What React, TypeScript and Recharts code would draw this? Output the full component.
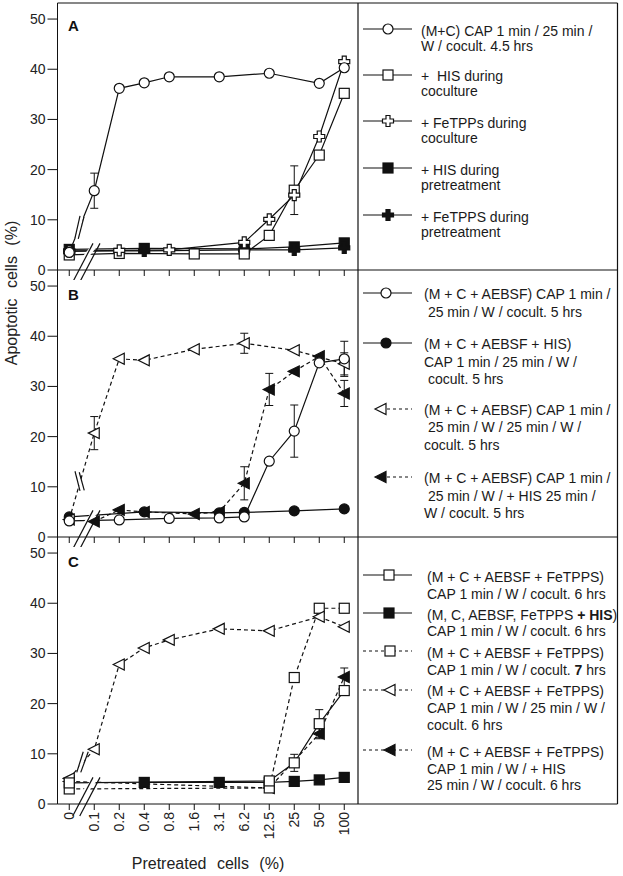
import React from 'react';
import { LineChart, Line, XAxis, YAxis, ReferenceLine, ErrorBar } from 'recharts';

const categories = ['0', '0.1', '0.2', '0.4', '0.8', '1.6', '3.1', '6.2', '12.5', '25', '50', '100'];
const yTicks = [0, 10, 20, 30, 40, 50];

// panel A
const aCap = [3.5, 15.8, 36.2, 37.3, 38.5, null, 38.5, null, 39.2, null, 37.2, 40.3];
const aCapErr = [null, 3.5, null, null, null, null, null, null, null, null, null, null];
const aHisCo = [3.0, null, 3.3, null, null, 3.2, null, 3.2, 6.9, 15.9, 22.9, 35.2];
const aHisCoErr = [null, null, null, null, null, null, null, null, null, 4.85, null, null];
const aFeCo = [3.7, null, 3.9, null, 4.0, null, null, 5.5, 10.1, 14.9, 26.6, 41.5];
const aHisPre = [4.1, null, null, 4.3, null, null, null, 4.2, null, 4.6, null, 5.4];
const aFePre = [3.8, null, null, 3.8, null, null, null, 4.0, null, 4.0, null, 4.4];

// panel B
const bAebsf = [3.2, null, 3.4, null, 3.7, null, 3.8, 4.0, 15.1, 21.1, 34.7, 35.5];
const bAebsfErr = [null, null, null, null, null, null, null, null, null, 5.2, null, 3.5];
const bAebsfHis = [4.0, null, null, 5.0, null, null, 4.8, 4.9, null, 5.2, null, 5.6];
const bWash = [3.5, 20.7, 35.5, 35.2, null, 37.4, null, 38.6, null, 37.2, null, 34.5];
const bWashErr = [null, 3.3, null, null, null, null, null, 2.0, null, null, null, 2.2];
const bWashHis = [null, 3.1, 5.4, 5.0, null, 4.6, 5.0, 10.7, 29.4, 33.0, 36.0, 28.6];
const bWashHisErr = [null, null, null, null, null, null, null, 3.3, 3.2, null, null, 2.6];

// panel C
const cFe6 = [4.2, null, null, null, null, null, null, null, 4.6, 8.2, 16.0, 22.6];
const cFe6Err = [null, null, null, null, null, null, null, null, null, 1.7, 2.8, null];
const cFeHis = [null, null, null, 4.3, null, null, 4.3, null, 4.3, 4.5, 4.8, 5.3];
const cFe7 = [3.0, null, null, null, null, null, null, null, 3.2, 25.2, 39.0, 39.0];
const cWash = [5.1, 10.9, 27.8, 31.1, 32.7, null, 34.9, null, 34.5, null, 37.3, 35.3];
const cWashHis = [4.5, null, null, null, null, null, null, null, 3.2, null, 14.0, 25.3];
const cWashHisErr = [null, null, null, null, null, null, null, null, null, null, 1.0, 1.8];

const INK = '#111';
const FONT = 'Arial, "Liberation Sans", sans-serif';

type Shape = 'circle' | 'square' | 'cross' | 'triangle';

function Marker({ cx, cy, shape, filled }: { cx: number; cy: number; shape: Shape; filled: boolean }) {
  const fill = filled ? INK : '#fff';
  const common = { fill, stroke: INK, strokeWidth: 1.2 };
  if (shape === 'circle') return <circle cx={cx} cy={cy} r={5} {...common} />;
  if (shape === 'square') return <rect x={cx - 5} y={cy - 5} width={10} height={10} {...common} />;
  if (shape === 'triangle')
    return <polygon points={`${cx - 6},${cy} ${cx + 5},${cy - 5.5} ${cx + 5},${cy + 5.5}`} {...common} />;
  const a = 5.5;
  const b = 2;
  const pts = [
    [-b, -a], [b, -a], [b, -b], [a, -b], [a, b], [b, b],
    [b, a], [-b, a], [-b, b], [-a, b], [-a, -b], [-b, -b],
  ]
    .map(([x, y]) => `${cx + x},${cy + y}`)
    .join(' ');
  return <polygon points={pts} {...common} />;
}

interface SeriesDef {
  key: string;
  values: (number | null)[];
  err?: (number | null)[];
  shape: Shape;
  filled: boolean;
  dashed: boolean;
}

type Seg = [{ x: number; y: number }, { x: number; y: number }];

const axisBreak: Seg[] = [
  [{ x: 0.14, y: -2.4 }, { x: 0.95, y: 5.3 }],
  [{ x: 0.42, y: -2.4 }, { x: 1.23, y: 5.3 }],
];
const axisBreakGap: Seg = [{ x: 0.3, y: 0.5 }, { x: 1.09, y: 5.3 }];

const breakA: Seg[] = [
  [{ x: 0.23, y: 6.4 }, { x: 0.43, y: 10.8 }],
  [{ x: 0.36, y: 6.2 }, { x: 0.59, y: 10.6 }],
];
const breakB: Seg[] = [
  [{ x: 0.23, y: 13.1 }, { x: 0.43, y: 9.2 }],
  [{ x: 0.4, y: 12.9 }, { x: 0.6, y: 9.3 }],
];
const breakC: Seg[] = [
  [{ x: 0.3, y: 6.3 }, { x: 0.56, y: 10.4 }],
  [{ x: 0.46, y: 6.3 }, { x: 0.76, y: 10.4 }],
];

const midSeg = (s: Seg[]): Seg => [
  { x: (s[0][0].x + s[1][0].x) / 2, y: (s[0][0].y + s[1][0].y) / 2 },
  { x: (s[0][1].x + s[1][1].x) / 2, y: (s[0][1].y + s[1][1].y) / 2 },
];

const seriesA: SeriesDef[] = [
  { key: 'hisPre', values: aHisPre, shape: 'square', filled: true, dashed: false },
  { key: 'fePre', values: aFePre, shape: 'cross', filled: true, dashed: false },
  { key: 'hisCo', values: aHisCo, err: aHisCoErr, shape: 'square', filled: false, dashed: false },
  { key: 'feCo', values: aFeCo, shape: 'cross', filled: false, dashed: false },
  { key: 'cap', values: aCap, err: aCapErr, shape: 'circle', filled: false, dashed: false },
];
const seriesB: SeriesDef[] = [
  { key: 'aebsfHis', values: bAebsfHis, shape: 'circle', filled: true, dashed: false },
  { key: 'washHis', values: bWashHis, err: bWashHisErr, shape: 'triangle', filled: true, dashed: true },
  { key: 'wash', values: bWash, err: bWashErr, shape: 'triangle', filled: false, dashed: true },
  { key: 'aebsf', values: bAebsf, err: bAebsfErr, shape: 'circle', filled: false, dashed: false },
];
const seriesC: SeriesDef[] = [
  { key: 'feHis', values: cFeHis, shape: 'square', filled: true, dashed: false },
  { key: 'washHis', values: cWashHis, err: cWashHisErr, shape: 'triangle', filled: true, dashed: true },
  { key: 'fe7', values: cFe7, shape: 'square', filled: false, dashed: true },
  { key: 'wash', values: cWash, shape: 'triangle', filled: false, dashed: true },
  { key: 'fe6', values: cFe6, err: cFe6Err, shape: 'square', filled: false, dashed: false },
];

const buildRows = (series: SeriesDef[]) =>
  categories.map((_, i) => {
    const row: Record<string, number | null> = { idx: i };
    series.forEach((s) => {
      row[s.key] = s.values[i];
      if (s.err) row[s.key + 'Err'] = s.err[i];
    });
    return row;
  });

const RotatedTick = (props: any) => {
  const { x, y, payload } = props;
  return (
    <text
      transform={`translate(${x},${y}) rotate(-90)`}
      textAnchor="end"
      dominantBaseline="central"
      fontSize={14}
      fontFamily={FONT}
      fill="#222"
    >
      {categories[payload.value]}
    </text>
  );
};

const EmptyTick = () => <g />;

function Panel({
  top,
  series,
  letter,
  upperBreak,
  labels,
}: {
  top: number;
  series: SeriesDef[];
  letter: string;
  upperBreak: Seg[];
  labels: boolean;
}) {
  const xh = labels ? 50 : 10;
  const data = buildRows(series);
  return (
    <div style={{ position: 'absolute', left: 0, top }}>
      <LineChart width={623} height={270 + xh} data={data} margin={{ top: 3, right: 265, bottom: 0, left: 0 }}>
        <XAxis
          dataKey="idx"
          type="number"
          domain={[-0.47, 11.55]}
          ticks={categories.map((_, i) => i)}
          allowDataOverflow
          height={xh}
          tickSize={6}
          tickLine={{ stroke: INK }}
          axisLine={{ stroke: INK }}
          tick={labels ? <RotatedTick /> : <EmptyTick />}
        />
        <YAxis
          type="number"
          domain={[0, 53.2]}
          ticks={yTicks}
          allowDataOverflow
          width={57.5}
          tickSize={10}
          tickLine={{ stroke: INK }}
          axisLine={{ stroke: INK }}
          tick={{ fill: '#222', fontSize: 14, fontFamily: FONT }}
        />
        {series.map((s) => (
          <Line
            key={s.key}
            dataKey={s.key}
            type="linear"
            stroke={INK}
            strokeWidth={1.2}
            strokeDasharray={s.dashed ? '4 3' : undefined}
            connectNulls
            isAnimationActive={false}
            activeDot={false}
            dot={(p: any) =>
              p.cy == null || p.value == null ? (
                <g key={p.index} />
              ) : (
                <Marker key={p.index} cx={p.cx} cy={p.cy} shape={s.shape} filled={s.filled} />
              )
            }
          >
            {s.err && <ErrorBar dataKey={s.key + 'Err'} direction="y" width={4} stroke={INK} strokeWidth={1} />}
          </Line>
        ))}
        <ReferenceLine segment={axisBreakGap} stroke="#fff" strokeWidth={5} ifOverflow="visible" />
        {axisBreak.map((seg, i) => (
          <ReferenceLine key={'ab' + i} segment={seg} stroke={INK} strokeWidth={1.2} ifOverflow="visible" />
        ))}
        <ReferenceLine segment={midSeg(upperBreak)} stroke="#fff" strokeWidth={3} ifOverflow="visible" />
        {upperBreak.map((seg, i) => (
          <ReferenceLine key={'ub' + i} segment={seg} stroke={INK} strokeWidth={1.2} ifOverflow="visible" />
        ))}
      </LineChart>
      <div
        style={{
          position: 'absolute',
          left: 68,
          top: letter === 'A' ? 17 : 19,
          fontFamily: FONT,
          fontWeight: 'bold',
          fontSize: 15,
          color: INK,
        }}
      >
        {letter}
      </div>
    </div>
  );
}

interface LegendItem {
  shape: Shape;
  filled: boolean;
  dashed: boolean;
  lines: React.ReactNode[];
}

const legendA: LegendItem[] = [
  { shape: 'circle', filled: false, dashed: false, lines: ['(M+C) CAP 1 min / 25 min /', 'W / cocult. 4.5 hrs'] },
  { shape: 'square', filled: false, dashed: false, lines: ['+  HIS during', 'coculture'] },
  { shape: 'cross', filled: false, dashed: false, lines: ['+ FeTPPs during', 'coculture'] },
  { shape: 'square', filled: true, dashed: false, lines: ['+ HIS during', 'pretreatment'] },
  { shape: 'cross', filled: true, dashed: false, lines: ['+ FeTPPS during', 'pretreatment'] },
];
const legendB: LegendItem[] = [
  { shape: 'circle', filled: false, dashed: false, lines: ['(M + C + AEBSF) CAP 1 min /', ' 25 min / W / cocult. 5 hrs'] },
  { shape: 'circle', filled: true, dashed: false, lines: ['(M + C + AEBSF + HIS)', 'CAP 1 min / 25 min / W /', ' cocult. 5 hrs'] },
  { shape: 'triangle', filled: false, dashed: true, lines: ['(M + C + AEBSF) CAP 1 min /', ' 25 min / W / 25 min / W /', 'cocult. 5 hrs'] },
  { shape: 'triangle', filled: true, dashed: true, lines: ['(M + C + AEBSF) CAP 1 min /', ' 25 min / W / + HIS 25 min /', 'W / cocult. 5 hrs'] },
];
const legendC: LegendItem[] = [
  { shape: 'square', filled: false, dashed: false, lines: ['(M + C + AEBSF + FeTPPS)', 'CAP 1 min / W / cocult. 6 hrs'] },
  {
    shape: 'square',
    filled: true,
    dashed: false,
    lines: [<>(M, C, AEBSF, FeTPPS <b>+ HIS</b>)</>, 'CAP 1 min / W / cocult. 6 hrs'],
  },
  {
    shape: 'square',
    filled: false,
    dashed: true,
    lines: ['(M + C + AEBSF + FeTPPS)', <>CAP 1 min / W / cocult. <b>7</b> hrs</>],
  },
  { shape: 'triangle', filled: false, dashed: true, lines: ['(M + C + AEBSF + FeTPPS)', 'CAP 1 min / W / 25 min / W /', 'cocult. 6 hrs'] },
  { shape: 'triangle', filled: true, dashed: true, lines: ['(M + C + AEBSF + FeTPPS)', 'CAP 1 min / W / + HIS', '25 min / W / cocult. 6 hrs'] },
];

function Legend({
  items,
  ys,
  lineHeight,
  textX,
  markerX,
  dashedMarkerX,
  dashedFromMarker,
}: {
  items: LegendItem[];
  ys: number[];
  lineHeight: number;
  textX: number;
  markerX: number;
  dashedMarkerX: number;
  dashedFromMarker: boolean;
}) {
  return (
    <>
      {items.map((it, i) => {
        const mx = (it.dashed ? dashedMarkerX : markerX) - 360;
        const x1 = it.dashed && dashedFromMarker ? mx : 3;
        return (
          <React.Fragment key={i}>
            <svg
              width={60}
              height={16}
              style={{ position: 'absolute', left: 360, top: ys[i] - 2 - 8, overflow: 'visible' }}
            >
              <line
                x1={x1}
                x2={52}
                y1={8}
                y2={8}
                stroke={INK}
                strokeWidth={1.2}
                strokeDasharray={it.dashed ? '3 3' : undefined}
              />
              <Marker cx={mx} cy={8} shape={it.shape} filled={it.filled} />
            </svg>
            <div
              style={{
                position: 'absolute',
                left: textX,
                top: ys[i] - lineHeight / 2,
                fontFamily: FONT,
                fontSize: 14,
                lineHeight: `${lineHeight}px`,
                color: '#1a1a1a',
                whiteSpace: 'pre',
              }}
            >
              {it.lines.map((l, j) => (
                <div key={j}>{l}</div>
              ))}
            </div>
          </React.Fragment>
        );
      })}
    </>
  );
}

export default function App() {
  return (
    <div style={{ position: 'absolute', left: 0, top: 0, width: 623, height: 876, background: '#fff' }}>
      <svg width={623} height={876} style={{ position: 'absolute', left: 0, top: 0 }}>
        <g stroke={INK} strokeWidth={1.2}>
          <line x1={57.5} y1={3} x2={617.5} y2={3} />
          <line x1={617.5} y1={3} x2={617.5} y2={804} />
          <line x1={358} y1={3} x2={358} y2={804} />
          <line x1={358} y1={270} x2={617.5} y2={270} />
          <line x1={358} y1={537} x2={617.5} y2={537} />
          <line x1={358} y1={804} x2={617.5} y2={804} />
        </g>
      </svg>
      <Panel top={0} series={seriesA} letter="A" upperBreak={breakA} labels={false} />
      <Panel top={267} series={seriesB} letter="B" upperBreak={breakB} labels={false} />
      <Panel top={534} series={seriesC} letter="C" upperBreak={breakC} labels />
      <Legend
        items={legendA}
        ys={[31, 76.7, 123, 170, 217]}
        lineHeight={15}
        textX={421}
        markerX={388}
        dashedMarkerX={388}
        dashedFromMarker={false}
      />
      <Legend
        items={legendB}
        ys={[295, 345, 410.7, 479]}
        lineHeight={17.3}
        textX={424}
        markerX={386}
        dashedMarkerX={381}
        dashedFromMarker
      />
      <Legend
        items={legendC}
        ys={[577.3, 615, 653.3, 691.7, 752.3]}
        lineHeight={16.7}
        textX={427}
        markerX={389}
        dashedMarkerX={390}
        dashedFromMarker={false}
      />
      <div
        style={{
          position: 'absolute',
          left: 12 - 100,
          top: 293 - 10,
          width: 200,
          height: 20,
          lineHeight: '20px',
          textAlign: 'center',
          transform: 'rotate(-90deg)',
          fontFamily: FONT,
          fontSize: 16,
          wordSpacing: 6,
          color: '#222',
        }}
      >
        Apoptotic cells (%)
      </div>
      <div
        style={{
          position: 'absolute',
          left: 208 - 120,
          top: 864 - 10,
          width: 240,
          lineHeight: '20px',
          textAlign: 'center',
          fontFamily: FONT,
          fontSize: 16,
          wordSpacing: 6,
          color: '#222',
        }}
      >
        Pretreated cells (%)
      </div>
    </div>
  );
}
